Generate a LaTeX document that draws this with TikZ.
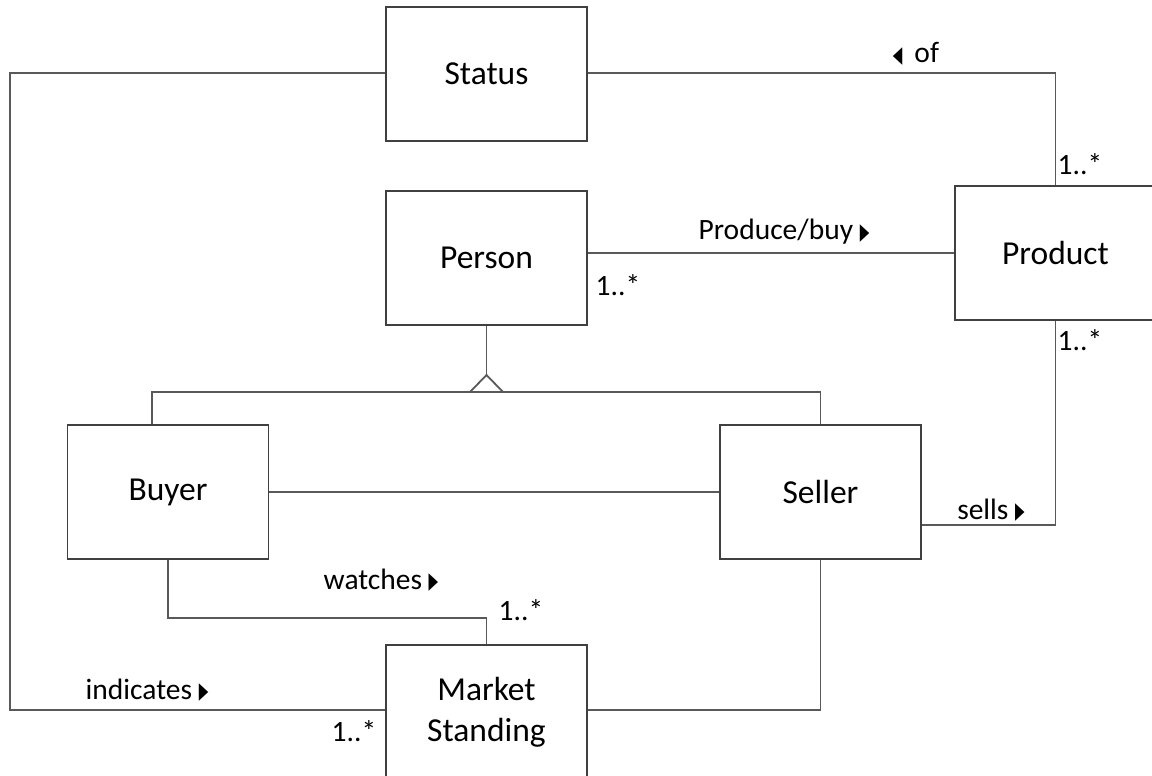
\documentclass[tikz,border=0pt]{standalone}
\usepackage{fontspec}
\setmainfont{Carlito}
\newfontfamily\symfont{DejaVu Sans}
\newcommand{\rtri}{{\symfont\fontsize{20}{20}\selectfont\raisebox{0.5pt}{\scalebox{0.62}[1.15]{▶}}}}
\newcommand{\ltri}{{\symfont\fontsize{20}{20}\selectfont\raisebox{0.5pt}{\scalebox{0.62}[1.15]{◀}}}}
\begin{document}
\begin{tikzpicture}[x=1pt,y=-1pt,
  cls/.style={draw=black!75,line width=1.8pt,fill=white,minimum width=201pt,minimum height=134pt,
    inner sep=0pt,align=center,font=\fontsize{33.5}{41}\selectfont},
  conn/.style={draw=black!65,line width=1.8pt},
  lab/.style={inner sep=0pt,font=\fontsize{29.5}{32}\selectfont}]
\useasboundingbox (0,0) rectangle (1152,776);
\clip (0,0) rectangle (1152,776);
\node[cls] (status) at (486.5,74) {Status};
\node[cls] (person) at (486.5,258) {Person};
\node[cls] (product) at (1055.5,253) {Product};
\node[cls] (buyer) at (168,492) {Buyer\vphantom{Sl}};
\node[cls] (seller) at (820.5,492) {Seller};
\node[cls] (ms) at (486.5,712) {Market\\Standing};
\coordinate (apex) at (486.5,375);
\coordinate (gen) at (486.5,392);
\coordinate (leftrail) at (10,73);
\coordinate (watchrail) at (168,618);
% connectors
\draw[conn] (status.west |- leftrail) -- (leftrail) |- (ms.west |- 0,710);
\draw[conn] (status.east |- leftrail) -| (product.north);
\draw[conn] (person.east |- product.west) -- (product.west);
\draw[conn] (person.south) -- (apex);
\draw[conn] ([xshift=-16.5pt]gen) -- (apex) -- ([xshift=16.5pt]gen);
\draw[conn] ([xshift=-16pt]buyer.north) |- (gen) -| (seller.north);
\draw[conn] (buyer.east) -- (seller.west);
\draw[conn] ([yshift=-33pt]seller.east) -| (product.south);
\draw[conn] (buyer.south) -- (watchrail) -| (ms.north);
\draw[conn] (seller.south) |- (ms.east |- 0,710);
% labels
\node[lab] (l1) at (916,54) {\ltri\hspace{12pt}of};
\node[lab] (l2) at (1080,164) {1..*};
\node[lab] (l3) at (784,232) {Produce/buy \rtri};
\node[lab] (l4) at (618,285) {1..*};
\node[lab] (l5) at (1080,340) {1..*};
\node[lab] (l6) at (991,510) {sells \rtri};
\node[lab] (l7) at (381,580) {watches \rtri};
\node[lab] (l8) at (521,610) {1..*};
\node[lab] (l9) at (147,690) {indicates \rtri};
\node[lab] (l10) at (354,731) {1..*};
\end{tikzpicture}
\end{document}
